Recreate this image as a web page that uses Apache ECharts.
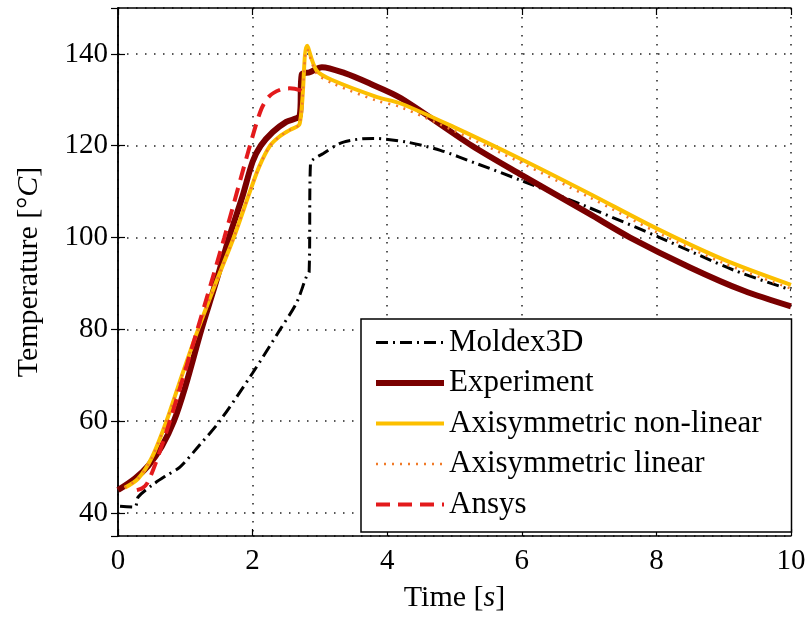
<!DOCTYPE html>
<html>
<head>
<meta charset="utf-8">
<title>Temperature</title>
<script src="https://cdn.jsdelivr.net/npm/echarts@6/dist/echarts.min.js"></script>
<style>
  html, body { margin: 0; padding: 0; background: #fff; }
  #chart { width: 810px; height: 619px; }
</style>
</head>
<body>
<div id="chart"></div>
<script>
//- 图例名称
var seriesNames = ['Moldex3D', 'Experiment', 'Axisymmetric non-linear', 'Axisymmetric linear', 'Ansys'];

//- 坐标轴刻度
var xTicks = [0, 2, 4, 6, 8, 10];
var yTicks = [40, 60, 80, 100, 120, 140];

//- Moldex3D
var moldexTime = [0.03, 0.25, 0.3, 0.5, 0.7, 0.92, 1.2, 1.51, 2.0, 2.41, 2.65, 2.8, 2.84, 2.86, 3.05, 3.35, 3.79, 4.29, 4.79, 5.33, 5.98, 6.97, 8.05, 9.15, 10];
var moldexTemp = [41.5, 41.3, 43.5, 46, 48, 50, 54.6, 60, 70.5, 80, 85.7, 91.5, 92.5, 116.1, 118.3, 120.8, 121.6, 120.8, 119, 116.1, 112.5, 106.7, 100, 92.9, 88.6];

//- Experiment
var expTime = [0, 0.25, 0.45, 0.65, 0.83, 1.0, 1.24, 1.45, 1.65, 1.85, 2.0, 2.12, 2.3, 2.5, 2.7, 2.73, 2.85, 3.03, 3.37, 3.75, 4.2, 5.26, 6.0, 7.0, 7.61, 8.5, 9.3, 10];
var expTemp = [45, 47.5, 50.3, 54.5, 60, 67.5, 80, 90, 100, 109, 116.5, 120, 123, 125.2, 126.6, 135.5, 136, 137.1, 135.8, 133.5, 130.4, 120, 113.6, 105.2, 100, 93.5, 88.4, 85];

//- Axisymmetric non-linear
var nonlinTime = [0.1, 0.3, 0.5, 0.72, 0.95, 1.19, 1.45, 1.72, 1.96, 2.1, 2.26, 2.4, 2.55, 2.7, 2.81, 2.95, 3.2, 3.85, 4.2, 5.0, 6.0, 7.0, 8.0, 9.0, 10];
var nonlinTemp = [45.5, 47.5, 52, 60, 70, 80, 90, 100, 110, 115.5, 120, 122, 123.4, 124.8, 141.8, 136.4, 134.2, 130.6, 129.2, 124, 117, 109.6, 102, 95.2, 89.7];

//- Axisymmetric linear
var linTime = [0.1, 0.3, 0.5, 0.72, 0.95, 1.19, 1.45, 1.72, 1.96, 2.1, 2.26, 2.4, 2.55, 2.7, 2.81, 2.95, 3.2, 3.85, 4.2, 5.0, 6.0, 7.0, 8.0, 9.0, 10];
var linTemp = [45.5, 47.5, 52, 60, 70, 80, 90, 100, 110, 115.5, 120, 122, 123.4, 124.8, 141, 135.8, 133.5, 129.8, 128.4, 123.2, 116.2, 108.8, 101.2, 94.4, 88.9];

//- Ansys
var ansysTime = [0.28, 0.36, 0.43, 0.55, 0.77, 1.18, 1.58, 1.96, 2.13, 2.25, 2.41, 2.55, 2.7, 2.83];
var ansysTemp = [45, 45.4, 46.4, 50.5, 60, 80, 100, 120, 128, 130.8, 132.2, 132.5, 132.1, 131];

var pairs = function (xs, ys) {
  return xs.map(function (x, i) { return [x, ys[i]]; });
};

var font = 'Liberation Serif';

var myChat = echarts.init(document.getElementById('chart'));

var line = function (name, data, color, width, type) {
  return {
    name: name,
    type: 'line',
    data: data,
    symbol: 'none',
    smooth: 0.3,
    lineStyle: { color: color, width: width, type: type },
    itemStyle: { color: color }
  };
};

var axisName = function (text, italic) {
  return '{n|' + text + ' [' + (italic === 'C' ? '°' : '') + '}{i|' + italic + '}{n|]}';
};

var nameRich = {
  n: { fontFamily: font, fontSize: 30, color: '#000' },
  i: { fontFamily: font, fontSize: 30, fontStyle: 'italic', color: '#000' }
};

var tickStyle = { show: true, inside: true, length: 7, lineStyle: { color: '#000', width: 1.2 } };
var gridStyle = { show: true, lineStyle: { color: '#222', width: 1.5, type: [1.5, 7.5] } };

myChat.setOption({
  animation: false,
  backgroundColor: '#fff',
  grid: { left: 118, right: 19, top: 8, bottom: 83 },
  legend: {
    orient: 'vertical',
    left: 361,
    top: 319,
    itemWidth: 68,
    itemHeight: 14,
    itemGap: 9.5,
    padding: [8, 30, 12, 12],
    borderColor: '#000',
    borderWidth: 1.5,
    backgroundColor: '#fff',
    itemStyle: { opacity: 0, borderWidth: 0 },
    lineStyle: { width: 'inherit', type: 'inherit' },
    textStyle: { fontFamily: font, fontSize: 31, color: '#000', lineHeight: 30 },
    data: seriesNames
  },
  xAxis: [{
    type: 'value',
    min: xTicks[0],
    max: xTicks[xTicks.length - 1],
    interval: 2,
    name: axisName('Time', 's'),
    nameLocation: 'middle',
    nameGap: 47,
    nameTextStyle: { rich: nameRich },
    axisLine: { lineStyle: { color: '#000', width: 1.5 } },
    axisTick: tickStyle,
    axisLabel: { fontFamily: font, fontSize: 29, color: '#000', margin: 11 },
    splitLine: gridStyle
  }, {
    type: 'value',
    position: 'top',
    min: xTicks[0],
    max: xTicks[xTicks.length - 1],
    interval: 2,
    axisLine: { show: true, lineStyle: { color: '#000', width: 1.5 } },
    axisTick: tickStyle,
    axisLabel: { show: false },
    splitLine: { show: false }
  }],
  yAxis: [{
    type: 'value',
    min: 35,
    max: 150,
    splitNumber: 5,
    name: axisName('Temperature', 'C'),
    nameLocation: 'middle',
    nameGap: 74,
    nameRotate: 90,
    nameTextStyle: { rich: nameRich },
    axisLine: { show: true, lineStyle: { color: '#000', width: 1.5 } },
    axisTick: tickStyle,
    axisLabel: {
      fontFamily: font, fontSize: 29, color: '#000', margin: 10,
      showMinLabel: false, showMaxLabel: false,
      formatter: function (v) { return yTicks.indexOf(v) >= 0 ? String(v) : ''; }
    },
    splitLine: gridStyle
  }, {
    type: 'value',
    position: 'right',
    min: 35,
    max: 150,
    splitNumber: 5,
    axisLine: { show: true, lineStyle: { color: '#000', width: 1.5 } },
    axisTick: tickStyle,
    axisLabel: { show: false },
    splitLine: { show: false }
  }],
  series: [
    line(seriesNames[0], pairs(moldexTime, moldexTemp), '#000000', 3, [12, 5, 2, 5]),
    line(seriesNames[1], pairs(expTime, expTemp), '#7a0000', 6, 'solid'),
    line(seriesNames[2], pairs(nonlinTime, nonlinTemp), '#fcbf00', 4, 'solid'),
    line(seriesNames[3], pairs(linTime, linTemp), '#f07a28', 2.5, [2, 6]),
    line(seriesNames[4], pairs(ansysTime, ansysTemp), '#e31a1c', 4, [14, 8])
  ]
});
</script>
</body>
</html>
